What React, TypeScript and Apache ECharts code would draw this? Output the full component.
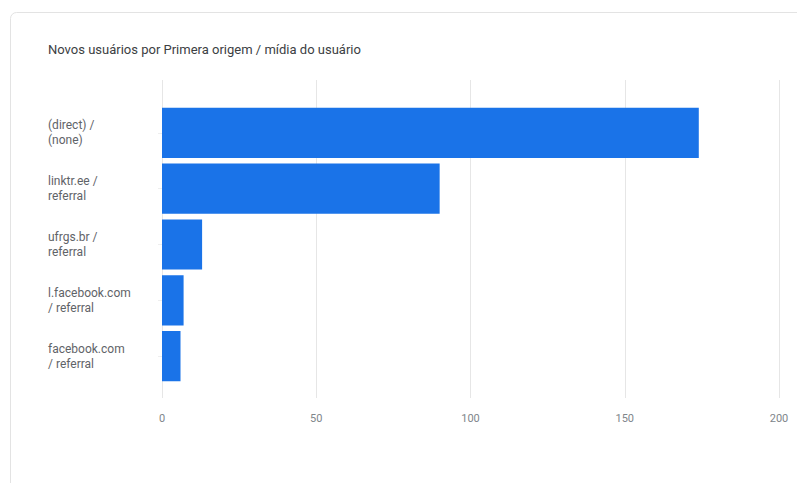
import React, { useEffect, useRef } from "react";
import * as echarts from "echarts";

const categories = [
  "(direct) /\n(none)",
  "linktr.ee /\nreferral",
  "ufrgs.br /\nreferral",
  "l.facebook.com\n/ referral",
  "facebook.com\n/ referral",
];
const values = [174, 90, 13, 7, 6];
const title = "Novos usuários por Primera origem / mídia do usuário";

export default function App() {
  const ref = useRef<HTMLDivElement>(null);
  useEffect(() => {
    if (!ref.current) return;
    const chart = echarts.init(ref.current, null, { renderer: "svg" });
    const font = "Roboto, 'Noto Sans', Arial, sans-serif";
    chart.setOption({
      animation: false,
      backgroundColor: "#ffffff",
      graphic: [
        {
          type: "rect",
          shape: { x: 10.5, y: 12.5, width: 820, height: 500, r: 6 },
          style: { fill: "#ffffff", stroke: "#e3e3e3", lineWidth: 1 },
          z: -10,
        },
        {
          type: "text",
          x: 48,
          y: 43,
          style: {
            text: title,
            fill: "#3c4043",
            font: `13px ${font}`,
          },
        },
      ],
      grid: [
        { left: 162, right: 26, top: 80, bottom: 93 },
        { left: 162, right: 26, top: 105, height: 279 },
      ],
      xAxis: [
        {
          type: "value",
          gridIndex: 0,
          min: 0,
          max: 200,
          interval: 50,
          axisLine: { show: false },
          axisTick: { show: false },
          splitLine: { show: true, lineStyle: { color: "#e6e6e6", width: 1 } },
          axisLabel: {
            color: "#80868b",
            fontSize: 11,
            fontFamily: font,
            margin: 15,
          },
        },
        {
          type: "value",
          gridIndex: 1,
          min: 0,
          max: 200,
          interval: 50,
          show: false,
        },
      ],
      yAxis: [
        {
          type: "value",
          gridIndex: 0,
          min: 0,
          max: 1,
          show: false,
        },
        {
          type: "category",
          gridIndex: 1,
          inverse: true,
          data: categories,
          axisLine: { show: false },
          axisTick: { show: true, length: 4, alignWithLabel: true, lineStyle: { color: "#eeeeee" } },
          splitLine: { show: false },
          axisLabel: {
            align: "left",
            margin: 114,
            color: "#5f6368",
            fontSize: 12,
            lineHeight: 15,
            fontFamily: font,
          },
        },
      ],
      series: [
        {
          type: "bar",
          xAxisIndex: 1,
          yAxisIndex: 1,
          data: values,
          barCategoryGap: "10%",
          itemStyle: { color: "#1a73e8" },
        },
      ],
    });
    return () => chart.dispose();
  }, []);
  return <div ref={ref} style={{ width: 805, height: 491, margin: -8 }} />;
}
